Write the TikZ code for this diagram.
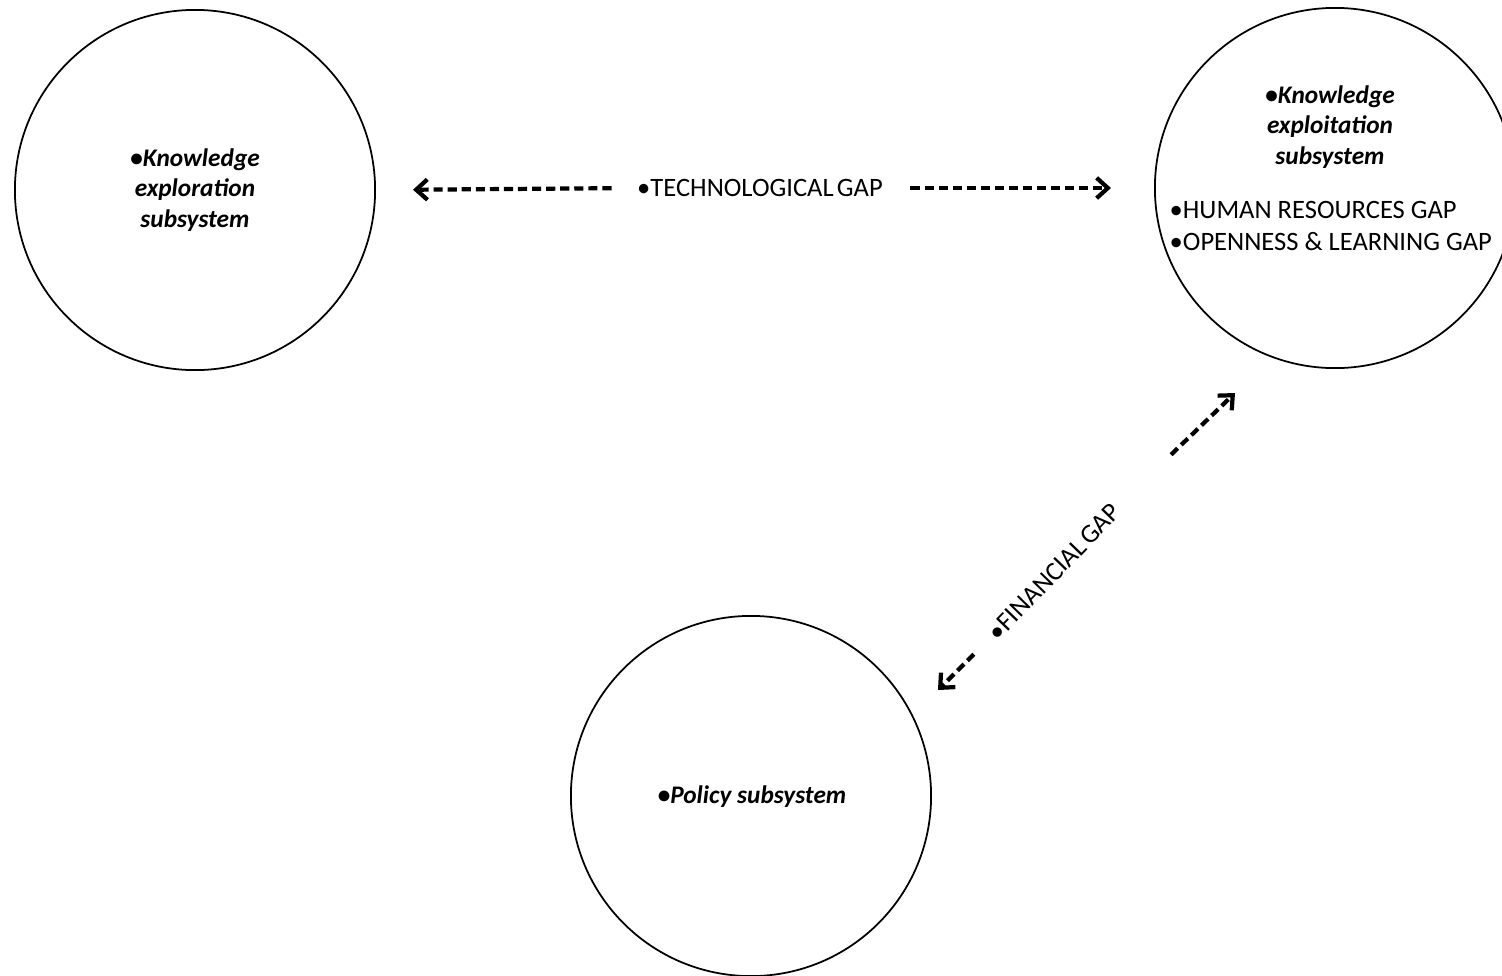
\documentclass[tikz,border=0pt]{standalone}
\usepackage{fontspec}
\setmainfont{Carlito}
\usetikzlibrary{arrows.meta}
\begin{document}
\begin{tikzpicture}[x=0.01cm,y=-0.01cm,
  circ/.style={circle,draw,line width=0.5pt,minimum size=3.6cm,inner sep=0pt},
  title/.style={font=\fontsize{7.2}{8.6}\selectfont\bfseries\itshape,align=center,inner sep=0pt},
  lab/.style={font=\fontsize{7.55}{9.3}\selectfont,inner sep=0pt},
  arr/.style={line width=1.2pt,dash pattern=on 2.6pt off 1.4pt,-{Straight Barb[length=3.2pt,width=5.8pt]}}]
\useasboundingbox (0,0) rectangle (1502,975);
\node[circ] (explo) at (195,190) {};
\node[circ] (exploit) at (1335,188) {};
\node[circ] (policy) at (751,796) {};
\node[title] (explot) at (195,190) {•Knowledge\\exploration\\subsystem};
\node[title] (exploitt) at (1330,127) {•Knowledge\\exploitation\\subsystem};
\node[lab,align=left,anchor=west] (gaps) at (1169,226) {•HUMAN RESOURCES GAP\\•OPENNESS \& LEARNING GAP};
\node[title] (policyt) at (752,797) {•Policy subsystem};
\node[lab] (tech) at (760,188) {•TECHNOLOGICAL\hspace{0.12em}GAP};
\node[lab,rotate=46] (fin) at (1054,572) {•FINANCIAL\hspace{0.12em}GAP};
\coordinate (tipA) at (1235,393);
\coordinate (tipB) at (938,690);
\draw[arr,shorten <=0.25cm,shorten >=0.37cm] (tech.west) -- (explo.east);
\draw[arr,shorten <=0.27cm,shorten >=0.43cm] (tech.east) -- (exploit.west);
\draw[arr,shorten <=0.76cm] (fin.east) -- (tipA);
\draw[arr,shorten <=0.25cm] (fin.west) -- (tipB);
\end{tikzpicture}
\end{document}
